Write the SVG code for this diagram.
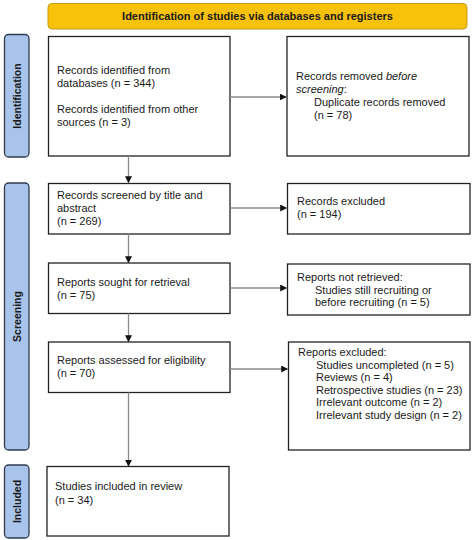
<svg xmlns="http://www.w3.org/2000/svg" width="475" height="540" viewBox="0 0 475 540">
<style>
text{font-family:"Liberation Sans",Arial,sans-serif;font-size:11px;fill:#1a1a1a}
.box{fill:#fff;stroke:#222;stroke-width:1.3}
.side{fill:#a8c4ea;stroke:#2e3b4e;stroke-width:1.3}
.st{font-weight:bold;font-size:10.5px;text-anchor:middle}
.hdr{fill:#f8c10a;stroke:#c99a12;stroke-width:1}
.con{stroke:#8a8a8a;stroke-width:1.3;fill:none;marker-end:url(#ah)}
</style>
<defs>
<marker id="ah" viewBox="0 0 10 10" refX="9" refY="5" markerWidth="7" markerHeight="7" markerUnits="userSpaceOnUse" orient="auto">
<path d="M0,0L10,5L0,10z" fill="#111"/>
</marker>
</defs>
<rect width="475" height="540" fill="#fff"/>
<g id="header">
<rect class="hdr" x="48" y="3.5" width="419" height="25.5" rx="4"/>
<text x="257.5" y="20" text-anchor="middle" font-weight="bold">Identification of studies via databases and registers</text>
</g>
<g id="side-identification">
<rect class="side" x="4.5" y="34.5" width="24.5" height="122.5" rx="4"/>
<text class="st" transform="translate(21,96) rotate(-90)">Identification</text>
</g>
<g id="side-screening">
<rect class="side" x="4.5" y="183" width="24.5" height="267" rx="4"/>
<text class="st" transform="translate(21,316.5) rotate(-90)">Screening</text>
</g>
<g id="side-included">
<rect class="side" x="4.5" y="465" width="24.5" height="73" rx="4"/>
<text class="st" transform="translate(21,501.5) rotate(-90)">Included</text>
</g>
<g id="n-identified">
<rect class="box" x="48.5" y="36.5" width="181.5" height="119.5"/>
<text x="57" y="74">Records identified from</text>
<text x="57" y="87">databases (n = 344)</text>
<text x="57" y="113">Records identified from other</text>
<text x="57" y="126">sources (n = 3)</text>
</g>
<g id="n-removed">
<rect class="box" x="287" y="36.5" width="182" height="119.5"/>
<text x="296" y="80">Records removed <tspan font-style="italic">before</tspan></text>
<text x="296" y="93"><tspan font-style="italic">screening</tspan>:</text>
<text x="314" y="106">Duplicate records removed</text>
<text x="314" y="119">(n = 78)</text>
</g>
<g id="n-screened">
<rect class="box" x="48.5" y="183.5" width="181.5" height="50.5"/>
<text x="57" y="199">Records screened by title and</text>
<text x="57" y="212">abstract</text>
<text x="57" y="225">(n = 269)</text>
</g>
<g id="n-excluded">
<rect class="box" x="287.5" y="183.5" width="182.5" height="50.5"/>
<text x="297" y="205">Records excluded</text>
<text x="297" y="218">(n = 194)</text>
</g>
<g id="n-sought">
<rect class="box" x="48.5" y="263" width="181.5" height="50.5"/>
<text x="57" y="286">Reports sought for retrieval</text>
<text x="57" y="299">(n = 75)</text>
</g>
<g id="n-notretrieved">
<rect class="box" x="287.5" y="264" width="182.5" height="51"/>
<text x="297" y="281">Reports not retrieved:</text>
<text x="315" y="293.5">Studies still recruiting or</text>
<text x="315" y="306">before recruiting (n = 5)</text>
</g>
<g id="n-assessed">
<rect class="box" x="48.5" y="342" width="181.5" height="50.5"/>
<text x="57" y="364">Reports assessed for eligibility</text>
<text x="57" y="377">(n = 70)</text>
</g>
<g id="n-reportsexcluded">
<rect class="box" x="288.5" y="342" width="181.5" height="108"/>
<text x="298" y="356">Reports excluded:</text>
<text x="316" y="368.5">Studies uncompleted (n = 5)</text>
<text x="316" y="381">Reviews (n = 4)</text>
<text x="316" y="393.5">Retrospective studies (n = 23)</text>
<text x="316" y="406">Irrelevant outcome (n = 2)</text>
<text x="316" y="418.5">Irrelevant study design (n = 2)</text>
</g>
<g id="n-included">
<rect class="box" x="47" y="466.5" width="182" height="69.5"/>
<text x="55" y="490">Studies included in review</text>
<text x="55" y="504">(n = 34)</text>
</g>
<g id="connectors">
<line class="con" x1="230" y1="97" x2="286" y2="97"/>
<line class="con" x1="128.5" y1="156" x2="128.5" y2="182.5"/>
<line class="con" x1="230" y1="208" x2="286.5" y2="208"/>
<line class="con" x1="128.5" y1="234" x2="128.5" y2="262.5"/>
<line class="con" x1="230" y1="288" x2="286.5" y2="288"/>
<line class="con" x1="128.5" y1="313.5" x2="128.5" y2="341.5"/>
<line class="con" x1="230" y1="369" x2="287.5" y2="369"/>
<line class="con" x1="128.5" y1="392.5" x2="128.5" y2="466"/>
</g>
</svg>
